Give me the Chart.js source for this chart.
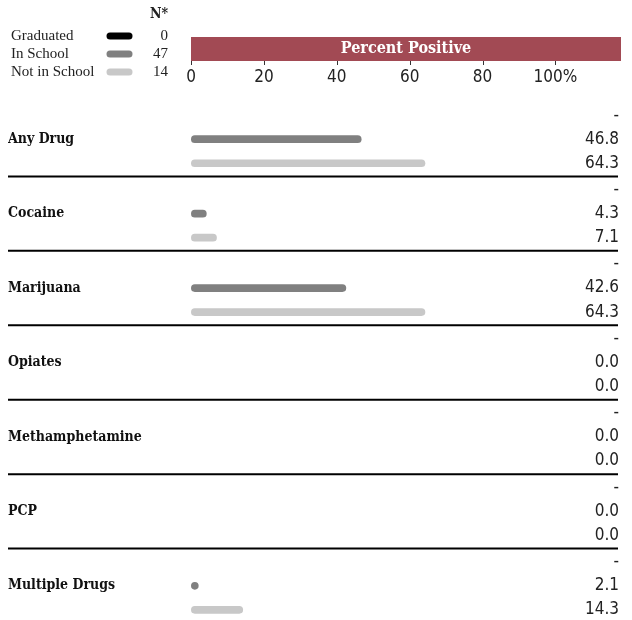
<!DOCTYPE html>
<html>
<head>
<meta charset="utf-8">
<script src="https://cdn.jsdelivr.net/npm/chart.js@4/dist/chart.umd.min.js"></script>
<style>
  html, body { margin: 0; padding: 0; background: #fff; overflow: hidden; }
  #wrap { position: relative; width: 632px; height: 623px; }
</style>
</head>
<body>
<div id="wrap"><canvas id="drugChart"></canvas></div>
<script>
// data
var categories = ['Any Drug', 'Cocaine', 'Marijuana', 'Opiates', 'Methamphetamine', 'PCP', 'Multiple Drugs'];
var seriesNames = ['Graduated', 'In School', 'Not in School'];
var seriesN = [0, 47, 14];
var graduated = [null, null, null, null, null, null, null];
var inSchool = [46.8, 4.3, 42.6, 0.0, 0.0, 0.0, 2.1];
var notInSchool = [64.3, 7.1, 64.3, 0.0, 0.0, 0.0, 14.3];
var xTicks = [0, 20, 40, 60, 80, 100];

var seriesColors = ['#000000', '#808080', '#c8c8c8'];
var numFont = '"DejaVu Sans Condensed", "Liberation Sans", sans-serif';
var headFont = '"DejaVu Serif Condensed", "Liberation Serif", serif';

// legend, header band, tick marks, separators and value labels
var extras = {
  id: 'extras',
  afterDraw: function(chart) {
    var ctx = chart.ctx;
    var area = chart.chartArea;
    var xs = chart.scales.x;
    var ys = chart.scales.y;
    ctx.save();

    // legend with N column
    ctx.font = 'bold 14px ' + headFont;
    ctx.fillStyle = '#222';
    ctx.textAlign = 'right';
    ctx.textBaseline = 'middle';
    ctx.fillText('N*', 168, 14);
    for (var s = 0; s < seriesNames.length; s++) {
      var ly = 36 + s * 18;
      ctx.font = '15px "Liberation Serif", serif';
      ctx.textAlign = 'left';
      ctx.fillStyle = '#222';
      ctx.fillText(seriesNames[s], 11, ly);
      ctx.textAlign = 'right';
      ctx.fillText(String(seriesN[s]), 168, ly);
      ctx.strokeStyle = seriesColors[s];
      ctx.lineWidth = 7;
      ctx.lineCap = 'round';
      ctx.beginPath();
      ctx.moveTo(110, ly);
      ctx.lineTo(129, ly);
      ctx.stroke();
    }

    // header band
    ctx.fillStyle = '#a24a54';
    ctx.fillRect(area.left, 37, area.right - area.left, 24);
    ctx.fillStyle = '#fff';
    ctx.font = 'bold 16px ' + headFont;
    ctx.textAlign = 'center';
    ctx.fillText('Percent Positive', (area.left + area.right) / 2, 49);

    // tick marks hanging from the band
    ctx.strokeStyle = '#333';
    ctx.lineWidth = 1;
    ctx.lineCap = 'butt';
    xTicks.forEach(function(t) {
      var px = Math.round(xs.getPixelForValue(t)) + 0.5;
      ctx.beginPath();
      ctx.moveTo(px, 61);
      ctx.lineTo(px, 65);
      ctx.stroke();
    });

    // separators between groups
    ctx.strokeStyle = '#000';
    ctx.lineWidth = 2;
    for (var i = 0; i < categories.length - 1; i++) {
      var sy = (ys.getPixelForValue(i) + ys.getPixelForValue(i + 1)) / 2;
      ctx.beginPath();
      ctx.moveTo(8, sy);
      ctx.lineTo(618, sy);
      ctx.stroke();
    }

    // value labels on the right
    ctx.font = '17px ' + numFont;
    ctx.fillStyle = '#222';
    ctx.textAlign = 'right';
    chart.data.datasets.forEach(function(ds, d) {
      var meta = chart.getDatasetMeta(d);
      meta.data.forEach(function(bar, j) {
        var v = ds.data[j];
        ctx.fillText(v === null ? '-' : v.toFixed(1), 619, bar.y);
      });
    });
    ctx.restore();
  }
};

function makeSet(label, data, color) {
  return {
    label: label,
    data: data,
    backgroundColor: function(c) { return c.raw === 0 ? 'rgba(0,0,0,0)' : color; },
    borderWidth: 0,
    borderRadius: 4,
    borderSkipped: false,
    barPercentage: 0.32
  };
}

var drugChart = new Chart(document.getElementById('drugChart'), {
  type: 'bar',
  data: {
    labels: categories,
    datasets: [
      makeSet(seriesNames[0], graduated, seriesColors[0]),
      makeSet(seriesNames[1], inSchool, seriesColors[1]),
      makeSet(seriesNames[2], notInSchool, seriesColors[2])
    ]
  },
  options: {
    indexAxis: 'y',
    responsive: true,
    maintainAspectRatio: false,
    animation: false,
    layout: { padding: { left: 8, right: 11, top: 0, bottom: 0 } },
    datasets: { bar: { categoryPercentage: 0.968 } },
    plugins: { legend: { display: false }, tooltip: { enabled: false } },
    scales: {
      x: {
        position: 'top',
        min: 0,
        max: 118,
        grid: { display: false, drawTicks: false },
        border: { display: false },
        afterFit: function(scale) {
          scale.height = 102;
          scale.paddingLeft = 0;
          scale.paddingRight = 0;
        },
        afterBuildTicks: function(scale) {
          scale.ticks = xTicks.map(function(v) { return { value: v }; });
        },
        ticks: {
          padding: 14,
          color: '#222',
          font: { family: numFont, size: 17 },
          callback: function(v) { return v === 100 ? '100%' : v; }
        }
      },
      y: {
        grid: { display: false },
        border: { display: false },
        afterFit: function(scale) {
          scale.width = 183;
          scale.paddingTop = 0;
          scale.paddingBottom = 0;
        },
        ticks: {
          crossAlign: 'far',
          color: '#111',
          font: { family: headFont, size: 14, weight: 'bold' }
        }
      }
    }
  },
  plugins: [extras]
});
</script>
</body>
</html>
